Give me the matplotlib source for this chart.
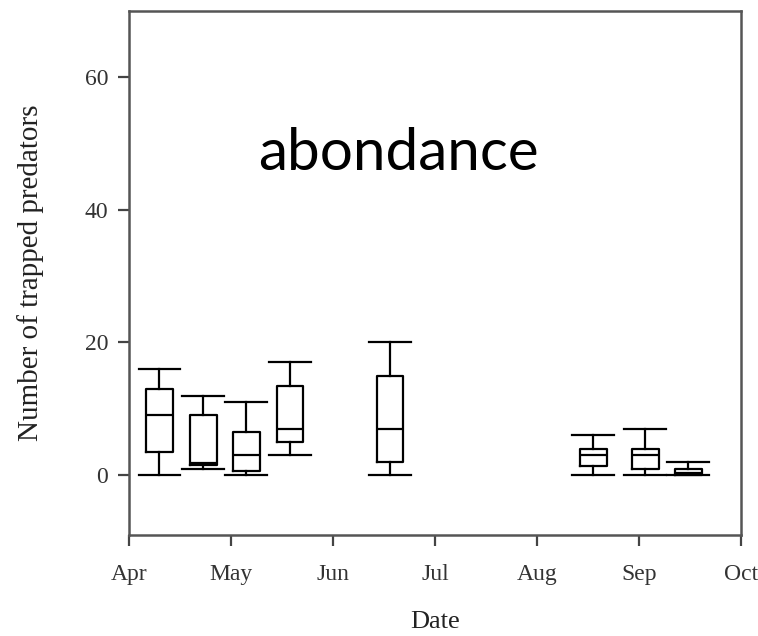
import matplotlib
matplotlib.use("Agg")
import matplotlib.pyplot as plt

# Sampling dates, in months after 1 April
positions = [0.30, 0.73, 1.15, 1.58, 2.56, 4.55, 5.06, 5.48]

# Box statistics (number of trapped predators)
whislo = [0, 1, 0, 3, 0, 0, 0, 0]
q1 = [3.5, 1.5, 0.6, 5, 2, 1.4, 0.9, 0]
med = [9, 1.8, 3, 7, 7, 3, 3, 0.3]
q3 = [13, 9, 6.5, 13.4, 15, 3.9, 3.9, 1]
whishi = [16, 12, 11, 17, 20, 6, 7, 2]

month_labels = ["Apr", "May", "Jun", "Jul", "Aug", "Sep", "Oct"]
y_ticks = [0, 20, 40, 60]

stats = []
for i in range(len(positions)):
    stats.append({"whislo": whislo[i], "q1": q1[i], "med": med[i],
                  "q3": q3[i], "whishi": whishi[i], "fliers": []})

fig = plt.figure(figsize=(7.58, 6.36), dpi=100)
ax = fig.add_axes([0.170, 0.159, 0.808, 0.824])

line = dict(color="black", linewidth=1.6)
ax.bxp(stats, positions=positions, widths=0.26, showfliers=False,
       boxprops=line, whiskerprops=line, capprops=line,
       medianprops=line, capwidths=0.41, manage_ticks=False)

ax.set_xlim(0, 6)
ax.set_ylim(-9, 70)
ax.set_xticks(range(len(month_labels)))
ax.set_xticklabels(month_labels)
ax.set_yticks(y_ticks)

serif = "Liberation Serif"
for lab in ax.get_xticklabels() + ax.get_yticklabels():
    lab.set_fontfamily(serif)
    lab.set_fontsize(17)
    lab.set_color("#333333")

ax.tick_params(direction="out", length=8, width=1.6, color="#444444")
ax.tick_params(axis="x", pad=13)
ax.tick_params(axis="y", pad=7)

for s in ax.spines.values():
    s.set_color("#555555")
    s.set_linewidth(1.8)

ax.set_xlabel("Date", fontfamily=serif, fontsize=19, labelpad=19, color="#222222")
ax.set_ylabel("Number of trapped predators", fontfamily=serif, fontsize=21,
              labelpad=29, color="#222222")

ax.text(0.440, 0.697, "abondance", transform=ax.transAxes, ha="center",
        va="baseline", fontsize=42, fontfamily="Lato", color="black")

fig.savefig("out.png", dpi=100)
